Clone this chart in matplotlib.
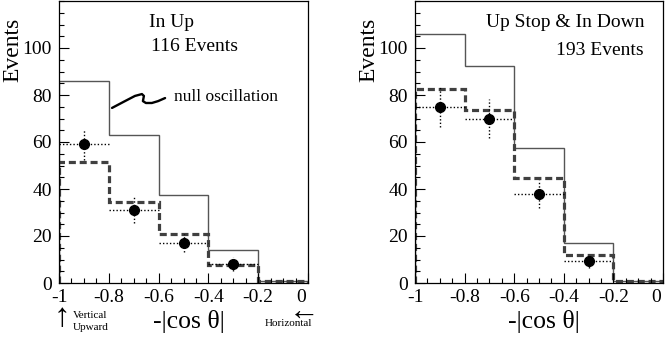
import numpy as np
import matplotlib
matplotlib.use("Agg")
import matplotlib.pyplot as plt
from matplotlib.ticker import MultipleLocator
from matplotlib.transforms import ScaledTranslation

plt.rcParams['font.family'] = ['Liberation Serif', 'DejaVu Serif']

# bin edges in -|cos theta|
edges = [-1.0, -0.8, -0.6, -0.4, -0.2, 0.0]
centers = [-0.9, -0.7, -0.5, -0.3]

# Left panel: In Up (116 events)
left_null = [86, 63, 37.5, 14, 1]
left_osc = [51.5, 34.5, 21, 7.5, 1]
left_data = [59, 31, 17, 8]
left_err = [6.5, 5.5, 4, 3]

# Right panel: Up Stop & In Down (193 events)
right_null = [106, 92.5, 57.5, 17, 1]
right_osc = [82.5, 73.5, 44.5, 12, 1]
right_data = [75, 70, 38, 9.5]
right_err = [8.5, 8.5, 6, 3]

xticks = [-1, -0.8, -0.6, -0.4, -0.2, 0]
xticklabels = ['-1', '-0.8', '-0.6', '-0.4', '-0.2', '0']
yticks = [0, 20, 40, 60, 80, 100]

fig = plt.figure(figsize=(6.65, 3.41), dpi=100)
axL = fig.add_axes([59/665, 1-283/341, 249/665, 282/341])
axR = fig.add_axes([415/665, 1-283/341, 248/665, 282/341])


def draw(ax, null, osc, data, err):
    ax.stairs(null, edges, color='#555555', lw=1.0)
    ax.stairs(osc, edges, color='#404040', lw=2.3, linestyle=(0, (2.2, 1.2)))
    eb = ax.errorbar(centers, data, yerr=err, xerr=0.1, fmt='o', color='black',
                     ms=7, elinewidth=1.0, capsize=0, ls='none')
    for coll in eb[2]:
        coll.set_linestyle((0, (1, 1.5)))
    ax.set_xlim(-1, 0.0)
    ax.set_ylim(0, 120)
    ax.set_xticks(xticks)
    ax.set_xticklabels(xticklabels)
    ax.set_yticks(yticks)
    ax.xaxis.set_minor_locator(MultipleLocator(0.05))
    ax.yaxis.set_minor_locator(MultipleLocator(5))
    ax.tick_params(which='both', direction='in', top=False, right=False, labelsize=14)
    ax.tick_params(which='major', length=7, width=0.8)
    ax.tick_params(which='minor', length=3.5, width=0.8)
    ax.tick_params(axis='x', pad=4)
    ax.tick_params(axis='y', pad=5)
    for s in ax.spines.values():
        s.set_linewidth(0.9)
    # shift the last "0" label left, as in the reference
    fig.canvas.draw()
    lbl = ax.get_xticklabels()[-1]
    lbl.set_transform(lbl.get_transform() + ScaledTranslation(-7/100, 0, fig.dpi_scale_trans))
    ax.text(-0.185, 0.94, 'Events', transform=ax.transAxes, rotation=90,
            ha='center', va='top', fontsize=17)
    ax.text(0.52, -0.135, '-|cos \u03b8|', transform=ax.transAxes,
            ha='center', va='center', fontsize=18.5)


draw(axL, left_null, left_osc, left_data, left_err)
draw(axR, right_null, right_osc, right_data, right_err)

axL.text(-0.55, 111, 'In Up', fontsize=14, ha='center', va='center')
axL.text(-0.455, 100.5, '116 Events', fontsize=14, ha='center', va='center')
axL.text(-0.54, 79, 'null oscillation', fontsize=12.5, ha='left', va='center')
# squiggle pointer (annotation stroke)
sq_x = [-0.787, -0.735, -0.695, -0.667, -0.659, -0.663, -0.651, -0.627, -0.602, -0.574]
sq_y = [74.5, 77.4, 79.6, 80.4, 79.6, 77.4, 76.6, 76.6, 77.4, 78.7]
axL.plot(sq_x, sq_y, color='black', lw=1.7, solid_capstyle='round',
         solid_joinstyle='round', clip_on=False)

axR.text(-0.075, 111, 'Up Stop & In Down', fontsize=14, ha='right', va='center')
axR.text(-0.08, 99, '193 Events', fontsize=14, ha='right', va='center')

# direction annotations
fig.text(62/665, 1-318/341, '\u2191', fontsize=24, ha='center', va='center',
         family=['Liberation Serif', 'DejaVu Sans'])
fig.text(73/665, 1-315/341, 'Vertical', fontsize=8, ha='left', va='center')
fig.text(73/665, 1-328/341, 'Upward', fontsize=8, ha='left', va='center')
fig.text(312/665, 1-324/341, 'Horizontal', fontsize=8, ha='right', va='center')
fig.text(304/665, 1-313/341, '\u2190', fontsize=22, ha='center', va='center',
         family=['Liberation Serif', 'DejaVu Sans'])

fig.savefig('out.png', dpi=100)
